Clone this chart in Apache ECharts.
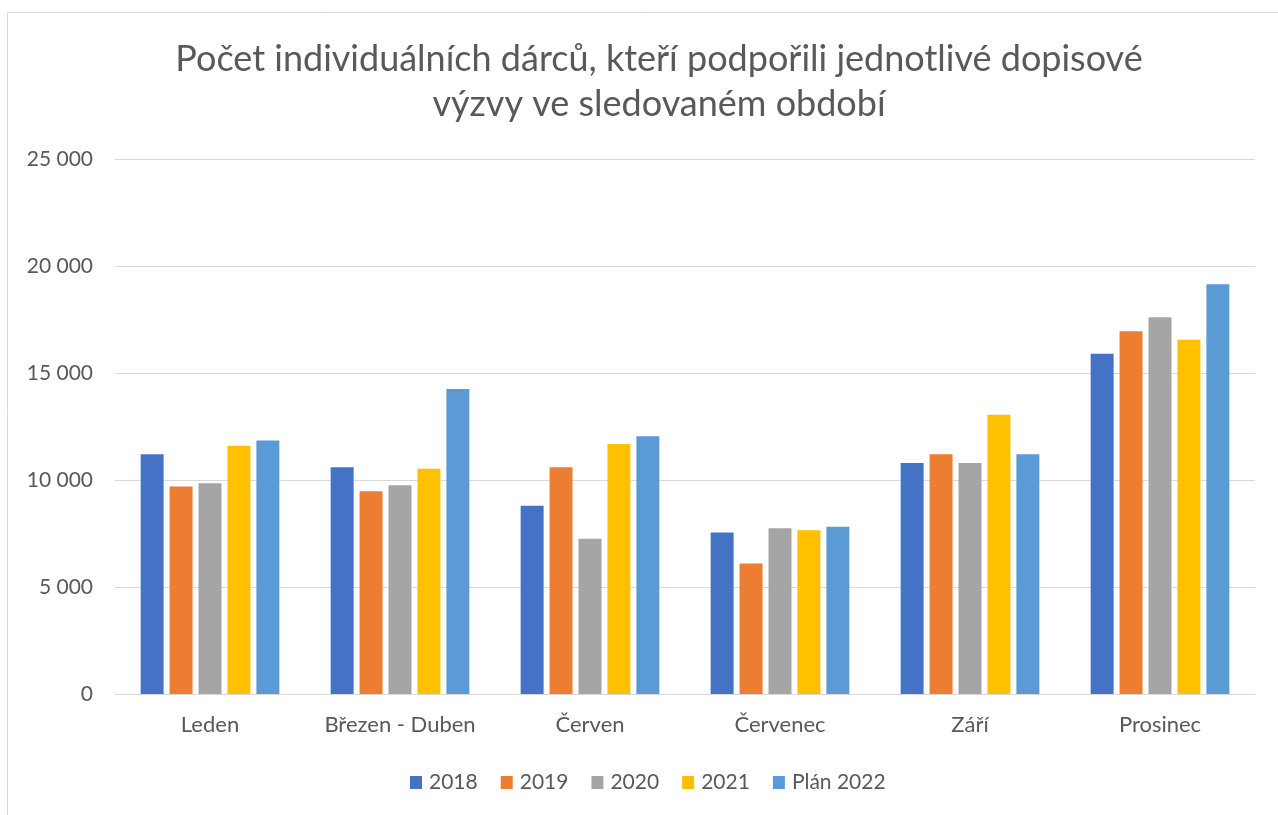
<!DOCTYPE html>
<html>
<head>
<meta charset="utf-8">
<script src="https://cdn.jsdelivr.net/npm/echarts@6/dist/echarts.min.js"></script>
<style>
  html, body { margin: 0; padding: 0; background: #fff; }
  #main { width: 1278px; height: 815px; }
</style>
</head>
<body>
<div id="main"></div>
<script>
var categories = ['Leden', 'Březen - Duben', 'Červen', 'Červenec', 'Září', 'Prosinec'];
var seriesNames = ['2018', '2019', '2020', '2021', 'Plán 2022'];
var seriesColors = ['#4472C4', '#ED7D31', '#A5A5A5', '#FFC000', '#5B9BD5'];

var v2018 = [11200, 10600, 8800, 7550, 10800, 15900];
var v2019 = [9700, 9480, 10600, 6100, 11200, 16950];
var v2020 = [9850, 9750, 7250, 7750, 10800, 17600];
var v2021 = [11600, 10520, 11680, 7650, 13050, 16550];
var v2022 = [11850, 14250, 12050, 7820, 11200, 19150];
var allValues = [v2018, v2019, v2020, v2021, v2022];

var yTicks = { min: 0, max: 25000, interval: 5000 };

var textColor = '#595959';
var fontFam = 'Lato, "Open Sans", sans-serif';

function fmt(v) {
    return String(v).replace(/\B(?=(\d{3})+(?!\d))/g, ' ');
}

var chart = echarts.init(document.getElementById('main'));

var series = [];
for (var i = 0; i < seriesNames.length; i++) {
    series.push({
        name: seriesNames[i],
        type: 'bar',
        data: allValues[i],
        itemStyle: { color: seriesColors[i] },
        barGap: '26%',
        barCategoryGap: '27%'
    });
}

chart.setOption({
    animation: false,
    backgroundColor: '#fff',
    graphic: [{
        type: 'rect',
        shape: { x: 7.5, y: 12.5, width: 1290, height: 820 },
        style: { fill: 'none', stroke: '#d9d9d9', lineWidth: 1 }
    }],
    title: {
        text: 'Počet individuálních dárců, kteří podpořili jednotlivé dopisové\nvýzvy ve sledovaném období',
        left: 654,
        top: 32,
        textAlign: 'center',
        textStyle: {
            color: textColor,
            fontFamily: fontFam,
            fontWeight: 'normal',
            fontSize: 36,
            lineHeight: 45
        }
    },
    legend: {
        top: 767,
        left: 405,
        itemWidth: 12,
        itemHeight: 13,
        itemGap: 23,
        icon: 'rect',
        textStyle: { color: textColor, fontFamily: fontFam, fontSize: 21, padding: [0, 0, 0, 2] },
        data: seriesNames
    },
    grid: { left: 115, right: 23, top: 159, bottom: 121, containLabel: false },
    xAxis: {
        type: 'category',
        data: categories,
        axisLine: { lineStyle: { color: '#d9d9d9', width: 1 } },
        axisTick: { show: false },
        axisLabel: { interval: 0, color: textColor, fontFamily: fontFam, fontSize: 22, margin: 20 }
    },
    yAxis: {
        type: 'value',
        min: yTicks.min,
        max: yTicks.max,
        interval: yTicks.interval,
        axisLine: { show: false },
        axisTick: { show: false },
        splitLine: { lineStyle: { color: '#d9d9d9', width: 1 } },
        axisLabel: {
            color: textColor, fontFamily: fontFam, fontSize: 21, margin: 22,
            formatter: function (v) { return fmt(v); }
        }
    },
    series: series
});
</script>
</body>
</html>
